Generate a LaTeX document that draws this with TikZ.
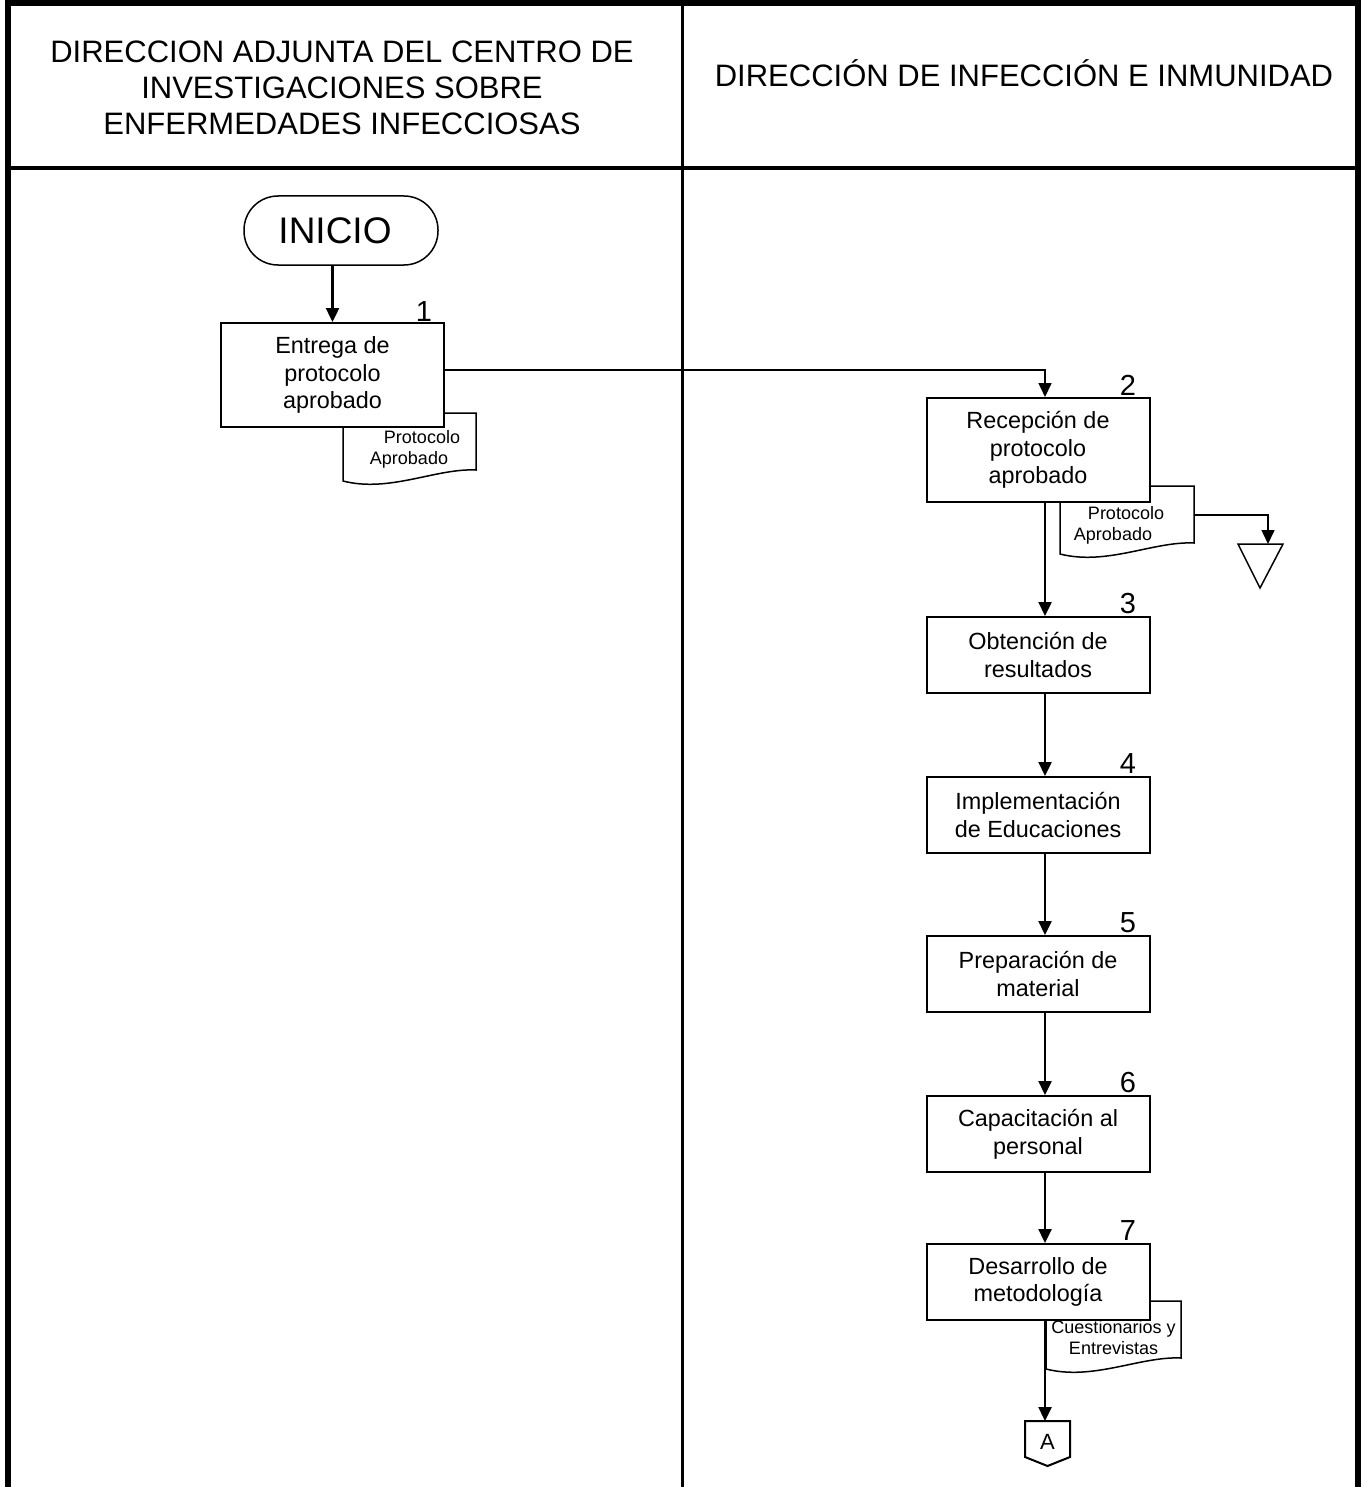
\documentclass[tikz,border=0pt]{standalone}
\usepackage{fontspec}
\setmainfont{Liberation Sans}
\usetikzlibrary{arrows.meta,calc,positioning}

% hoja de documento con borde ondulado
\newcommand{\documento}[3]{%
  \begin{scope}[shift={(#1,#2)}]
    \draw[line width=0.75pt, fill=white] (0,0) -- (#3,0) -- (#3,57)
      .. controls ({#3*0.7},55) and ({#3*0.35},80) .. (0,68) -- cycle;
  \end{scope}}

\begin{document}
\begin{tikzpicture}[x=0.5pt, y=-0.5pt,
  caja/.style={draw, fill=white, line width=1pt, minimum width=111.5pt, minimum height=38pt, align=center, inner sep=2pt, font=\fontsize{11.7}{13.8}\selectfont},
  numero/.style={font=\fontsize{14.5}{16}\selectfont, inner sep=0pt},
  doctexto/.style={align=center, inner sep=0pt, font=\fontsize{9}{10.5}\selectfont},
  flecha/.style={-{Triangle[length=7pt,width=6.5pt]}, line width=1.2pt},
  titulo/.style={align=center, font=\fontsize{15.5}{18}\selectfont}]
\useasboundingbox (0,0) rectangle (1361,1487);

% marco y carriles
\draw[line width=3pt] (8,1487) -- (8,3.5) -- (1357.5,3.5) -- (1357.5,1487);
\draw[line width=1.6pt] (8,168) -- (1357.5,168);
\draw[line width=1.5pt] (682,3.5) -- (682,1487);
\node[titulo] (carril1) at (342,88) {DIRECCION ADJUNTA DEL CENTRO DE\\INVESTIGACIONES SOBRE\\ENFERMEDADES INFECCIOSAS};
\node[titulo] (carril2) at (1024,73) {DIRECCIÓN DE INFECCIÓN E INMUNIDAD};

% documentos (detras de las cajas)
\documento{343}{413}{133}
\documento{1060}{486}{134}
\documento{1046}{1301}{135}

\node[draw, line width=0.75pt, rounded corners=17pt, minimum width=97pt, minimum height=34.5pt, font=\fontsize{18.5}{20}\selectfont] (inicio) at (341,230.5) {INICIO\hspace*{6pt}};

\node[caja, minimum height=52pt] (b1) at (332.5,375) {Entrega de\\protocolo\\aprobado};
\node[caja, minimum height=52pt] (b2) at (1038,450) {Recepción de\\protocolo\\aprobado};
\node[caja] (b3) at (1038,655) {Obtención de\\resultados};
\node[caja] (b4) at (1038,815) {Implementación\\de Educaciones};
\node[caja] (b5) at (1038,974) {Preparación de\\material};
\node[caja] (b6) at (1038,1134) {Capacitación al\\personal};
\node[caja] (b7) at (1038,1282) {Desarrollo de\\metodología};

\node[numero] (n1) at (424,312) {1};
\node[numero] (n2) at (1128,385) {2};
\node[numero] (n3) at (1128,604) {3};
\node[numero] (n4) at (1128,764) {4};
\node[numero] (n5) at (1128,923) {5};
\node[numero] (n6) at (1128,1083) {6};
\node[numero] (n7) at (1128,1231) {7};

\node[doctexto] (d1) at (409,449) {\hspace*{13pt}Protocolo\\Aprobado};
\node[doctexto] (d2) at (1113,525) {\hspace*{13pt}Protocolo\\Aprobado};
\node[doctexto] (d7) at (1113.5,1338) {Cuestionarios y\\Entrevistas};

% archivo y conector
\draw[line width=0.75pt] (1238,544) -- (1283,544) -- (1260,588) -- cycle;
\draw[line width=1pt] (1025,1421) -- (1070,1421) -- (1070,1457) -- (1047.5,1466) -- (1025,1457) -- cycle;
\node[font=\fontsize{11}{12}\selectfont] (conA) at (1047.5,1442) {A};

\coordinate (col) at (1045,0);
\coordinate (d2der) at (1194,515);
\coordinate (archivo) at (1268,544);
\coordinate (conAtop) at (1045,1421);

\draw[flecha] (b1.north |- inicio.south) -- (b1.north);
\draw[flecha, line width=0.8pt] ([yshift=2.5pt]b1.east) -| (b2.north -| col);
\foreach \a/\b in {b2/b3,b3/b4,b4/b5,b5/b6,b6/b7}
  \draw[flecha] (\a.south -| col) -- (\b.north -| col);
\draw[flecha] (b7.south -| col) -- (conAtop);
\draw[flecha, line width=0.8pt] (d2der) -| (archivo);
\end{tikzpicture}
\end{document}
